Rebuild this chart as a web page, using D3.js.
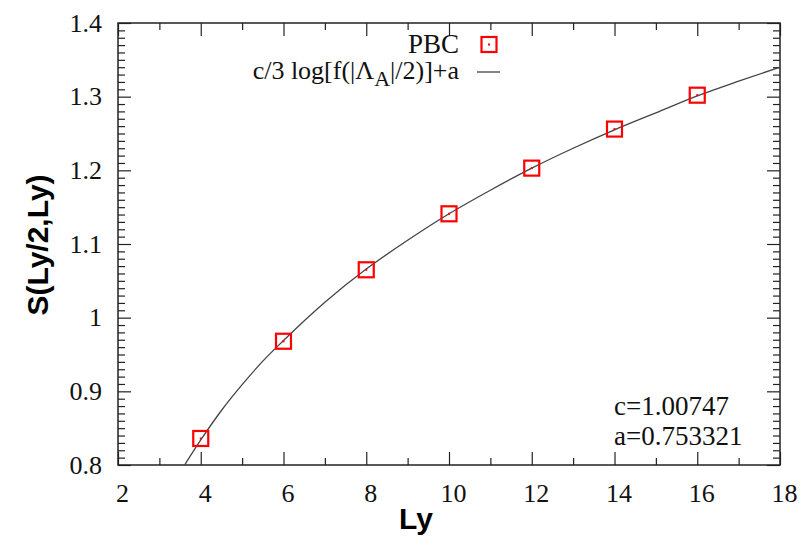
<!DOCTYPE html>
<html>
<head>
<meta charset="utf-8">
<script src="https://cdn.jsdelivr.net/npm/d3@7"></script>
<style>
  body { margin: 0; background: #fff; }
  svg { display: block; }
  .tick text { font-family: "Liberation Serif", "Times New Roman", serif; font-size: 26px; fill: #111; }
</style>
</head>
<body>
<div class="vis-chart"></div>
<script>
// data points (PBC)
const lyValues = [4, 6, 8, 10, 12, 14, 16];
const entropyValues = [0.836, 0.968, 1.065, 1.141, 1.203, 1.256, 1.302];

// fit curve
const fitLy = [3.61, 4, 4.5, 5, 5.5, 6, 7, 8, 9, 10, 11, 12, 13, 14, 15, 16, 17, 18];
const fitS = [0.800, 0.834, 0.874, 0.909, 0.941, 0.969, 1.021, 1.066, 1.105, 1.141, 1.173, 1.203, 1.230, 1.255, 1.278, 1.301, 1.321, 1.340];

const xTicks = [2, 4, 6, 8, 10, 12, 14, 16, 18];
const yTicks = [0.8, 0.9, 1.0, 1.1, 1.2, 1.3, 1.4];

const width = 800, height = 542;
const margin = {top: 23, right: 20, bottom: 77, left: 118};
const innerWidth = width - margin.left - margin.right;
const innerHeight = height - margin.top - margin.bottom;

const svg = d3.select('.vis-chart').append('svg')
    .attr('width', width)
    .attr('height', height);

const graph = svg.append('g')
    .attr('transform', `translate(${margin.left}, ${margin.top})`);

const xScale = d3.scaleLinear().domain([2, 18]).range([0, innerWidth]);
const yScale = d3.scaleLinear().domain([0.8, 1.4]).range([innerHeight, 0]);

// minor ticks
const xMinor = d3.range(3, 18, 2);
const yMinor = d3.range(0, 61).map(i => 0.8 + i * 0.01).filter(v => Math.round(v * 100) % 10 !== 0);

// strip domain + empty labels, style tick lines
function addTicks(axis) {
  axis.selectAll('.domain').remove();
  axis.selectAll('text').filter(function() { return this.textContent === ''; }).remove();
  axis.selectAll('line').attr('stroke', '#222').attr('stroke-width', 1.2);
}

// bottom axis (major)
const gX = graph.append('g').attr('transform', `translate(0, ${innerHeight})`)
  .call(d3.axisBottom(xScale).tickValues(xTicks).tickSize(-13).tickPadding(19).tickFormat(d3.format('d')));
addTicks(gX);
gX.selectAll('text').attr('dy', '0.71em').attr('dx', 4);
// top axis (mirror)
graph.append('g')
  .call(d3.axisTop(xScale).tickValues(xTicks).tickSize(-13).tickFormat('')).call(addTicks);
// minor x
graph.append('g').attr('transform', `translate(0, ${innerHeight})`)
  .call(d3.axisBottom(xScale).tickValues(xMinor).tickSize(-7).tickFormat('')).call(addTicks);
graph.append('g')
  .call(d3.axisTop(xScale).tickValues(xMinor).tickSize(-7).tickFormat('')).call(addTicks);

// left axis
const gY = graph.append('g')
  .call(d3.axisLeft(yScale).tickValues(yTicks).tickSize(-13).tickPadding(16)
    .tickFormat(d => d === 1 ? '1' : d3.format('.1f')(d)));
addTicks(gY);
graph.append('g').attr('transform', `translate(${innerWidth}, 0)`)
  .call(d3.axisRight(yScale).tickValues(yTicks).tickSize(-13).tickFormat('')).call(addTicks);
graph.append('g')
  .call(d3.axisLeft(yScale).tickValues(yMinor).tickSize(-7).tickFormat('')).call(addTicks);
graph.append('g').attr('transform', `translate(${innerWidth}, 0)`)
  .call(d3.axisRight(yScale).tickValues(yMinor).tickSize(-7).tickFormat('')).call(addTicks);

// frame
graph.append('rect')
  .attr('width', innerWidth).attr('height', innerHeight)
  .attr('fill', 'none').attr('stroke', '#222').attr('stroke-width', 1.5);

// clip
svg.append('clipPath').attr('id', 'clip')
  .append('rect').attr('width', innerWidth).attr('height', innerHeight);

// fit line
const fitData = fitLy.map((d, i) => ({x: d, y: fitS[i]}));
const line = d3.line().x(d => xScale(d.x)).y(d => yScale(d.y)).curve(d3.curveMonotoneX);
graph.append('path')
  .datum(fitData)
  .attr('clip-path', 'url(#clip)')
  .attr('d', line)
  .attr('fill', 'none')
  .attr('stroke', '#444')
  .attr('stroke-width', 1.3);

// markers
const pts = lyValues.map((d, i) => ({x: d, y: entropyValues[i]}));
const msize = 15;
const marks = graph.selectAll('.pt').data(pts).enter().append('g')
  .attr('class', 'pt')
  .attr('transform', d => `translate(${xScale(d.x)}, ${yScale(d.y)})`);
marks.append('rect')
  .attr('x', -msize / 2).attr('y', -msize / 2)
  .attr('width', msize).attr('height', msize)
  .attr('fill', 'none').attr('stroke', '#f00').attr('stroke-width', 2.2);
marks.append('rect')
  .attr('x', -1).attr('y', -1).attr('width', 2).attr('height', 2).attr('fill', '#f00');

// legend
const legend = svg.append('g');
const serif = '"Liberation Serif", "Times New Roman", serif';
legend.append('text')
  .attr('x', 459).attr('y', 53)
  .attr('text-anchor', 'end')
  .style('font-family', serif).style('font-size', '27px').attr('fill', '#111')
  .text('PBC');
legend.append('rect')
  .attr('x', 481.5).attr('y', 37).attr('width', 15).attr('height', 15)
  .attr('fill', 'none').attr('stroke', '#f00').attr('stroke-width', 2.2);
legend.append('rect')
  .attr('x', 488).attr('y', 43.5).attr('width', 2).attr('height', 2).attr('fill', '#f00');

const lt = legend.append('text')
  .attr('x', 459).attr('y', 79)
  .attr('text-anchor', 'end')
  .style('font-family', serif).style('font-size', '26px').attr('fill', '#111');
lt.append('tspan').text('c/3 log[f(|Λ');
lt.append('tspan').attr('dy', 7).style('font-size', '22px').text('A');
lt.append('tspan').attr('dy', -7).text('|/2)]+a');
legend.append('line')
  .attr('x1', 477).attr('x2', 500).attr('y1', 72).attr('y2', 72)
  .attr('stroke', '#444').attr('stroke-width', 1.3);

// fit parameters
svg.append('text')
  .attr('x', 614).attr('y', 415)
  .style('font-family', serif).style('font-size', '27px').attr('fill', '#111')
  .text('c=1.00747');
svg.append('text')
  .attr('x', 614).attr('y', 445)
  .style('font-family', serif).style('font-size', '27px').attr('fill', '#111')
  .text('a=0.753321');

// axis titles
const sans = '"Liberation Sans", Arial, sans-serif';
svg.append('text')
  .attr('x', 416).attr('y', 529)
  .attr('text-anchor', 'middle')
  .style('font-family', sans).style('font-size', '30px').style('font-weight', 'bold')
  .text('Ly');
svg.append('text')
  .attr('transform', 'translate(48, 245) rotate(-90)')
  .attr('text-anchor', 'middle')
  .style('font-family', sans).style('font-size', '30px').style('font-weight', 'bold')
  .text('S(Ly/2,Ly)');
</script>
</body>
</html>
